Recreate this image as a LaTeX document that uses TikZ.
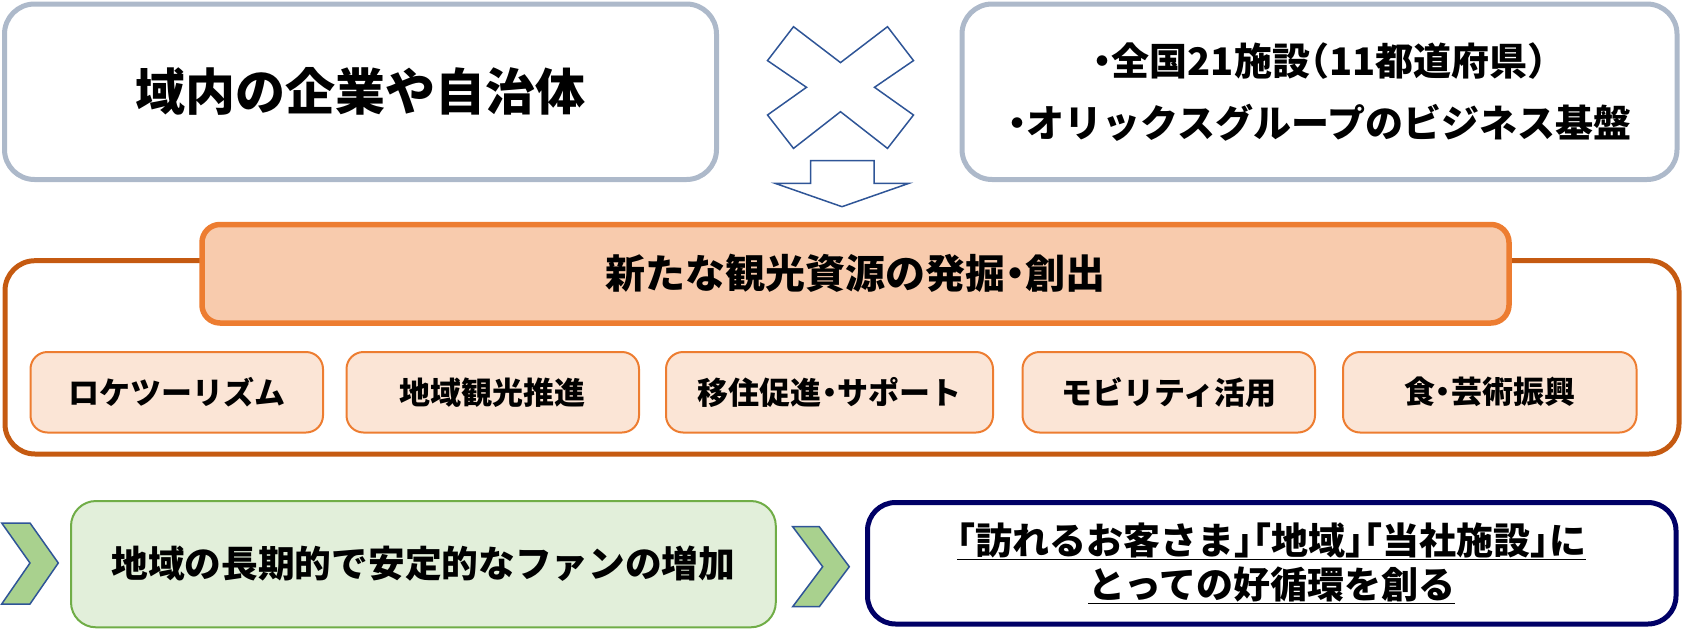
\documentclass[tikz,border=0pt]{standalone}
\usepackage{fontspec}
\setmainfont{Noto Sans CJK JP}[RawFeature=+halt]
\definecolor{gborder}{HTML}{ADB9CA}
\definecolor{darkorange}{HTML}{C55A11}
\definecolor{orangeline}{HTML}{ED7D31}
\definecolor{titlefill}{HTML}{F8CBAD}
\definecolor{smallfill}{HTML}{FBE5D6}
\definecolor{greenfill}{HTML}{E2EFDA}
\definecolor{greenline}{HTML}{70AD47}
\definecolor{chevfill}{HTML}{A9D18E}
\definecolor{blueline}{HTML}{2F5597}
\definecolor{navy}{HTML}{000066}
\tikzset{
  topbox/.style={draw=gborder, line width=5pt, rounded corners=30pt, fill=white, inner sep=0pt, align=center},
  outerbox/.style={draw=darkorange, line width=5pt, rounded corners=30pt, inner sep=0pt},
  titlebox/.style={draw=orangeline, fill=titlefill, line width=5.5pt, rounded corners=18pt, inner sep=0pt, font=\fontsize{40}{48}\selectfont\bfseries},
  itembox/.style={draw=orangeline, fill=smallfill, line width=2pt, rounded corners=17pt, inner sep=0pt, minimum height=80.5pt, font=\fontsize{31}{37}\selectfont\bfseries},
  greenbox/.style={draw=greenline, fill=greenfill, line width=2pt, rounded corners=25pt, inner sep=0pt, font=\fontsize{36.7}{44}\selectfont\bfseries},
  navybox/.style={draw=navy, fill=white, line width=5pt, rounded corners=28pt, inner sep=0pt, align=center},
  chev/.style={draw=blueline, fill=chevfill, line width=1.5pt, line join=miter},
  bluefig/.style={draw=blueline, fill=white, line width=1.5pt, line join=miter}
}
\begin{document}
\begin{tikzpicture}[x=1pt,y=-1pt]
\useasboundingbox (0,0) rectangle (1682,632);
% top boxes
\node[topbox, minimum width=712pt, minimum height=175.5pt, font=\fontsize{50}{60}\selectfont\bfseries] (tl) at (360.5,91.75) {域内の企業や自治体};
\node[topbox, minimum width=715pt, minimum height=175.5pt, font=\fontsize{38}{62}\selectfont\bfseries] (tr) at (1319.5,91.75) {・全国21施設（11都道府県）\\・オリックスグループのビジネス基盤};
% cross
\draw[bluefig] (793.5,26.7) -- (840.5,62.6) -- (887.5,26.7) -- (913.5,60.6) -- (874.5,87.3) -- (913.5,115) -- (887.5,148.4) -- (840.5,111.7) -- (793.5,148.4) -- (767.5,115) -- (806.5,87.3) -- (767.5,60.6) -- cycle;
% down arrow
\draw[bluefig] (810.5,160.7) -- (874,160.7) -- (874,183.3) -- (909,183.3) -- (842,206.7) -- (775,183.3) -- (810.5,183.3) -- cycle;
% big orange frame
\node[outerbox, minimum width=1674pt, minimum height=193.3pt] (frame) at (842,357.35) {};
\node[titlebox, minimum width=1307pt, minimum height=98.5pt] (title) at (855.5,273.75) {新たな観光資源の発掘・創出};
% items
\node[itembox, minimum width=292.5pt] (i1) at (176.75,392.25) {ロケツーリズム};
\node[itembox, minimum width=292.5pt] (i2) at (492.75,392.25) {地域観光推進};
\node[itembox, minimum width=327pt] (i3) at (829.5,392.25) {移住促進・サポート};
\node[itembox, minimum width=292.5pt] (i4) at (1168.75,392.25) {モビリティ活用};
\node[itembox, minimum width=293.5pt] (i5) at (1489.75,392.25) {食・芸術振興};
% bottom row
\draw[chev] (1.7,523) -- (30,523) -- (58.3,563) -- (30,604) -- (1.7,604) -- (30,563) -- cycle;
\node[greenbox, minimum width=704.8pt, minimum height=126.3pt] (fan) at (423.4,564.15) {地域の長期的で安定的なファンの増加};
\draw[chev] (792.7,526.7) -- (819.3,526.7) -- (849.3,566.7) -- (819.3,606.7) -- (792.7,606.7) -- (822.7,566.7) -- cycle;
\node[navybox, minimum width=808.5pt, minimum height=121.5pt, font=\fontsize{37}{44}\selectfont\bfseries] (goal) at (1271.75,563.25) {\underline{「訪れるお客さま」「地域」「当社施設」に}\\\underline{とっての好循環を創る}};
\end{tikzpicture}
\end{document}
